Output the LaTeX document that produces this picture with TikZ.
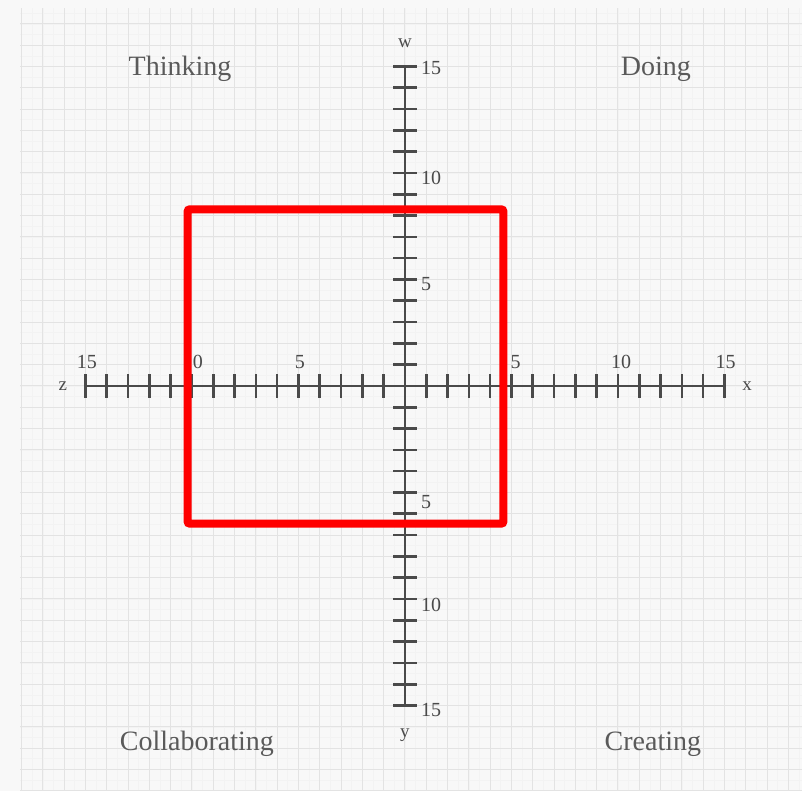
\documentclass[tikz,border=0pt]{standalone}
\usepackage{fontspec}
\setmainfont{Liberation Serif}
\usepackage{xcolor}
\definecolor{AxisGrey}{HTML}{4A4A4A}
\definecolor{LabelGrey}{HTML}{5A5A5A}
\definecolor{PaperWhite}{HTML}{F8F8F8}
\definecolor{GridGrey}{HTML}{E3E3E3}
\definecolor{FocusRed}{HTML}{FF0000}

\tikzset{
  quadrant/.style={text=LabelGrey,inner sep=0pt,font=\fontsize{28}{32}\selectfont},
  ticklabel/.style={text=AxisGrey,inner sep=0pt,font=\fontsize{20}{22}\selectfont},
  axisname/.style={text=AxisGrey,inner sep=0pt,font=\fontsize{19}{21}\selectfont},
  axisline/.style={draw=AxisGrey,line width=2.8pt},
  tickmark/.style={draw=AxisGrey,line width=2.6pt}
}

\begin{document}
\begin{tikzpicture}[x=21.3pt,y=21.3pt]
    \useasboundingbox (-19.01,-19.01) rectangle (18.64,18.12);
    \fill[PaperWhite] (-19.01,-19.01) rectangle (18.64,18.12);
    % graph paper
    \draw[GridGrey!45,line width=0.6pt,step=0.5] (-18.05,-19.01) grid (18.64,17.75);
    \draw[GridGrey,line width=1pt,step=1] (-18.05,-19.01) grid (18.64,17.75);

    % axes
    \coordinate (zend) at (-15,0);
    \coordinate (xend) at (15,0);
    \coordinate (wend) at (0,15);
    \coordinate (yend) at (0,-15);
    \draw[axisline] (zend) -- (xend);
    \draw[axisline] (wend) -- (yend);
    \foreach \k in {-15,...,-1,1,2,...,15} {
      \draw[tickmark] (\k,-0.55) -- (\k,0.55);
      \draw[tickmark] (-0.55,\k) -- (0.55,\k);
    }

    \node[axisname] (zname) at (-16.06,0) {z};
    \node[axisname] (xname) at (16.06,0) {x};
    \node[axisname] (wname) at (0,16.1) {w};
    \node[axisname] (yname) at (0,-16.4) {y};

    \foreach \pos/\txt [count=\i] in {-14.93/15,-9.72/0,-4.93/5,5.2/5,10.15/10,15.05/15}
      \node[ticklabel] (hlab\i) at (\pos,1.13) {\txt};
    \foreach \pos/\txt [count=\i] in {14.93/15,9.77/10,4.79/5,-5.45/5,-10.28/10,-15.2/15}
      \node[ticklabel,anchor=west] (vlab\i) at (0.75,\pos) {\txt};

    % quadrants
    \node[quadrant] (thinking) at (-10.56,14.87) {Thinking};
    \node[quadrant] (doing) at (11.78,14.87) {Doing};
    \node[quadrant] (collab) at (-9.77,-16.82) {Collaborating};
    \node[quadrant] (creating) at (11.64,-16.82) {Creating};

    % highlighted window
    \draw[FocusRed,line width=8pt,rounded corners=2pt] (-10.2,-6.46) rectangle (4.62,8.29);
  \end{tikzpicture}
\end{document}
